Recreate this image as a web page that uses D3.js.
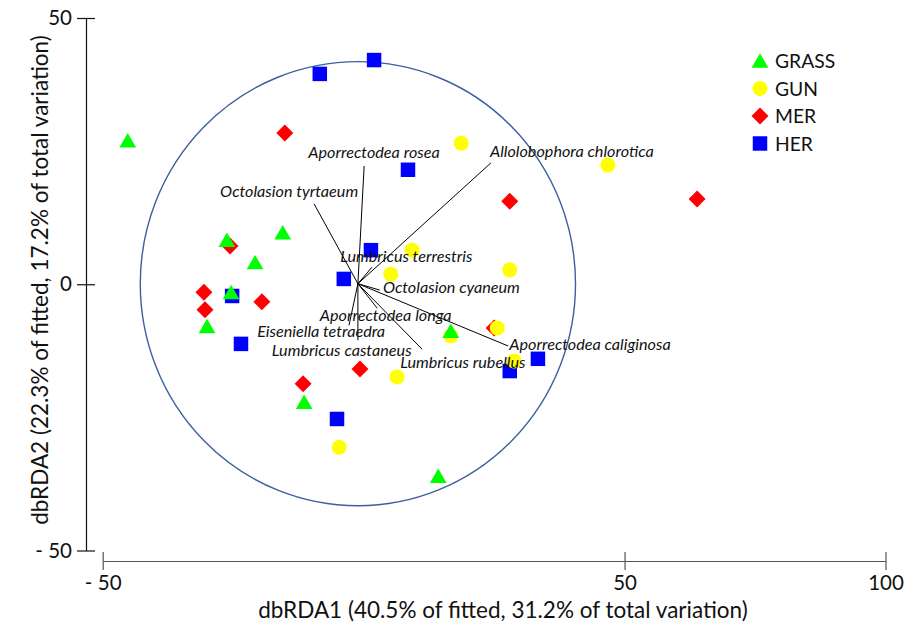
<!DOCTYPE html>
<html>
<head>
<meta charset="utf-8">
<script src="https://cdn.jsdelivr.net/npm/d3@7"></script>
<style>
  html, body { margin: 0; padding: 0; background: #fff; }
  svg { display: block; }
  text { font-family: Lato, "Open Sans", sans-serif; fill: #111; }
</style>
</head>
<body>
<svg id="chart" width="915" height="624"></svg>
<script>
// ---------- data ----------
const groups = ["GRASS", "GUN", "MER", "HER"];
const groupColors = ["#00ff00", "#ffff00", "#ff0000", "#0000ff"];

const grassX = [-45.2, -26.2, -15.5, -20.8, -25.4, -30.0, -11.4, 16.7, 14.3];
const grassY = [26.6, 7.9, 9.3, 3.7, -1.9, -8.3, -22.5, -9.2, -36.4];

const gunX = [18.7, 46.8, 9.3, 5.2, 28.0, 25.6, 16.7, 28.8, 6.4, -4.7];
const gunY = [26.5, 22.4, 6.4, 1.9, 2.7, -8.2, -9.7, -14.4, -17.4, -30.6];

const merX = [-15.1, 28.0, 63.9, -25.6, -30.6, -19.5, -30.4, 25.0, -0.7, -11.6];
const merY = [28.4, 15.6, 16.0, 7.2, -1.5, -3.3, -4.8, -8.2, -15.9, -18.7];

const herX = [2.0, -8.4, 8.5, 1.4, -3.8, -25.2, -23.5, 33.4, 28.0, -5.1];
const herY = [42.1, 39.5, 21.5, 6.4, 1.0, -2.2, -11.2, -14.0, -16.3, -25.3];

// vector (species) overlay
const origin = [-1.1, 0.1];
const circleRadius = 41.7;
const species = ["Aporrectodea rosea", "Octolasion tyrtaeum", "Allolobophora chlorotica",
  "Lumbricus terrestris", "Octolasion cyaneum", "Aporrectodea longa", "Eiseniella tetraedra",
  "Lumbricus castaneus", "Aporrectodea caliginosa", "Lumbricus rubellus"];
const vecX = [0.1, -9.5, 24.4, 1.6, 3.1, -2.8, -1.1, 2.6, 27.7, 11.2];
const vecY = [22.2, 15.1, 22.8, 3.2, -1.1, -7.7, -10.5, -4.5, -11.6, -12.2];
const labelX = [-10.6, -27.5, 24.2, -4.5, 3.7, -8.4, -20.4, -17.6, 27.9, 7.0];
const labelY = [23.7, 16.4, 23.9, 4.2, -1.6, -6.9, -9.9, -13.5, -12.3, -15.7];

const xTicks = [-50, 50, 100];
const yTicks = [-50, 0, 50];
const xTitle = "dbRDA1 (40.5% of fitted, 31.2% of total variation)";
const yTitle = "dbRDA2 (22.3% of fitted, 17.2% of total variation)";

// ---------- drawing ----------
const svg = d3.select("#chart");
const x = d3.scaleLinear().domain([-50, 100]).range([102.7, 885.5]);
const y = d3.scaleLinear().domain([-50, 50]).range([550.5, 18]);
const fmt = d => d < 0 ? "- " + Math.abs(d) : String(d);

// y axis
const yAxisG = svg.append("g").attr("transform", "translate(86,0)")
  .call(d3.axisLeft(y).tickValues(yTicks).tickSize(9).tickSizeOuter(0).tickFormat(fmt));
yAxisG.select(".domain").attr("stroke", "#111").attr("stroke-width", 1.2);
yAxisG.selectAll(".tick line").attr("x2", -9).attr("x1", 9).attr("stroke", "#111").attr("stroke-width", 1.2);
yAxisG.selectAll(".tick text").attr("x", -14).style("font-size", "20.5px")
  .style("font-family", "Lato, sans-serif").attr("fill", "#111");

// x axis
const xAxisG = svg.append("g").attr("transform", "translate(0,561)")
  .call(d3.axisBottom(x).tickValues(xTicks).tickSize(9).tickSizeOuter(0).tickFormat(fmt));
xAxisG.select(".domain").attr("stroke", "#555").attr("stroke-width", 1.2);
xAxisG.selectAll(".tick line").attr("y1", -9).attr("y2", 9).attr("stroke", "#555").attr("stroke-width", 1.2);
xAxisG.selectAll(".tick text").attr("y", 14).style("font-size", "20.5px")
  .style("font-family", "Lato, sans-serif").attr("fill", "#111");

// titles
svg.append("text").attr("x", 503).attr("y", 618).attr("text-anchor", "middle")
  .style("font-size", "22.5px").text(xTitle);
svg.append("text").attr("transform", "translate(48,280) rotate(-90)").attr("text-anchor", "middle")
  .style("font-size", "22.5px").text(yTitle);

// circle (radius in x data units, ellipse follows scales)
svg.append("ellipse")
  .attr("cx", x(origin[0])).attr("cy", y(origin[1]))
  .attr("rx", x(origin[0] + circleRadius) - x(origin[0]))
  .attr("ry", y(origin[1]) - y(origin[1] + circleRadius))
  .attr("fill", "none").attr("stroke", "#3d5f9e").attr("stroke-width", 1.4);

// points
const series = [
  {xs: grassX, ys: grassY, sym: d3.symbolTriangle, size: 121, rot: 0},
  {xs: gunX, ys: gunY, sym: d3.symbolCircle, size: 177, rot: 0},
  {xs: merX, ys: merY, sym: d3.symbolSquare, size: 144, rot: 45},
  {xs: herX, ys: herY, sym: d3.symbolSquare, size: 210, rot: 0}
];
const drawOrder = [2, 3, 1, 0];
drawOrder.forEach(gi => {
  const s = series[gi];
  const pts = s.xs.map((v, i) => [v, s.ys[i]]);
  svg.append("g").selectAll("path").data(pts).join("path")
    .attr("d", d3.symbol().type(s.sym).size(s.size))
    .attr("transform", d => `translate(${x(d[0])},${y(d[1])}) rotate(${s.rot})`)
    .attr("fill", groupColors[gi]);
});

// vectors
const vg = svg.append("g");
species.forEach((name, i) => {
  vg.append("line")
    .attr("x1", x(origin[0])).attr("y1", y(origin[1]))
    .attr("x2", x(vecX[i])).attr("y2", y(vecY[i]))
    .attr("stroke", "#000").attr("stroke-width", 1);
});
species.forEach((name, i) => {
  vg.append("text").attr("x", x(labelX[i])).attr("y", y(labelY[i]))
    .style("font-size", "16.2px").style("font-style", "italic").text(name);
});

// legend
const lg = svg.append("g");
const legendSym = [d3.symbolTriangle, d3.symbolCircle, d3.symbolSquare, d3.symbolSquare];
const legendSize = [121, 177, 144, 210];
const legendRot = [0, 0, 45, 0];
groups.forEach((g, i) => {
  const cy = 61 + i * 27.5;
  lg.append("path")
    .attr("d", d3.symbol().type(legendSym[i]).size(legendSize[i]))
    .attr("transform", `translate(760,${cy + (i === 0 ? 2 : 0)}) rotate(${legendRot[i]})`)
    .attr("fill", groupColors[i]);
  lg.append("text").attr("x", 775).attr("y", cy + 7)
    .style("font-size", "19.3px").text(g);
});
</script>
</body>
</html>
